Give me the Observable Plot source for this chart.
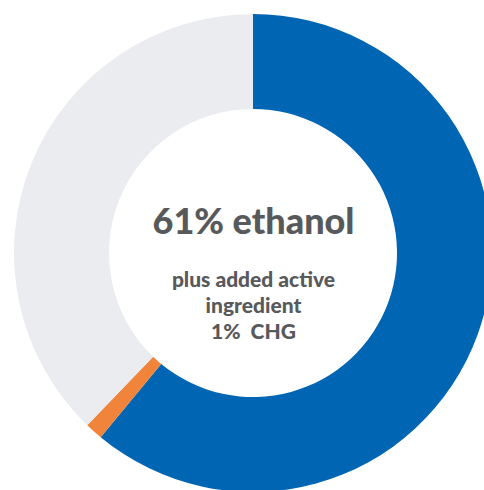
<!DOCTYPE html>
<html><head><meta charset="utf-8">
<script src="https://cdn.jsdelivr.net/npm/d3@7"></script>
<script src="https://cdn.jsdelivr.net/npm/@observablehq/plot@0.6"></script>
<style>html,body{margin:0;padding:0;background:#fff;overflow:hidden}</style>
</head><body><div id="chart"></div>
<script>
const categories = ["ethanol", "CHG", "other"];
const shares = [61, 1.2, 37.8];
const colors = ["#0066b3", "#f0843a", "#ebecf0"];
const titleText = ["61% ethanol"];
const subtitleText = ["plus added active\ningredient\n1%  CHG"];

const data = categories.map((c, i) => ({category: c, share: shares[i]}));
const colorScale = Plot.scale({color: {type: "ordinal", domain: categories, range: colors}});
const arcs = d3.pie().value(d => d.share).sort(null)(data);

function donut(index, scales, values, dimensions) {
  const cx = scales.x(0), cy = scales.y(0);
  const r = Math.abs(scales.x(1) - scales.x(0));
  const arc = d3.arc().innerRadius(r * 0.6025).outerRadius(r);
  const g = d3.create("svg:g").attr("transform", `translate(${cx},${cy})`);
  g.selectAll("path").data(arcs).join("path")
    .attr("d", arc)
    .attr("fill", d => colorScale.apply(d.data.category));
  return g.node();
}

const chart = Plot.plot({
  width: 484,
  height: 490,
  margin: 0,
  x: {domain: [-1, 1], range: [14, 492], axis: null},
  y: {domain: [1, -1], range: [14, 492], axis: null},
  style: {fontFamily: "Lato, sans-serif", background: "#fff"},
  marks: [
    donut,
    Plot.text(titleText, {x: () => 0, y: () => 0, text: d => d, fontSize: 36, fontWeight: 900,
      fill: "#58595b", lineAnchor: "bottom", dy: -20}),
    Plot.text(subtitleText, {x: () => 0, y: () => 0, text: d => d, fontSize: 21, fontWeight: 900,
      fill: "#58595b", lineAnchor: "bottom", lineHeight: 26 / 21, dy: 85})
  ]
});
document.getElementById("chart").append(chart);
</script>
</body></html>
